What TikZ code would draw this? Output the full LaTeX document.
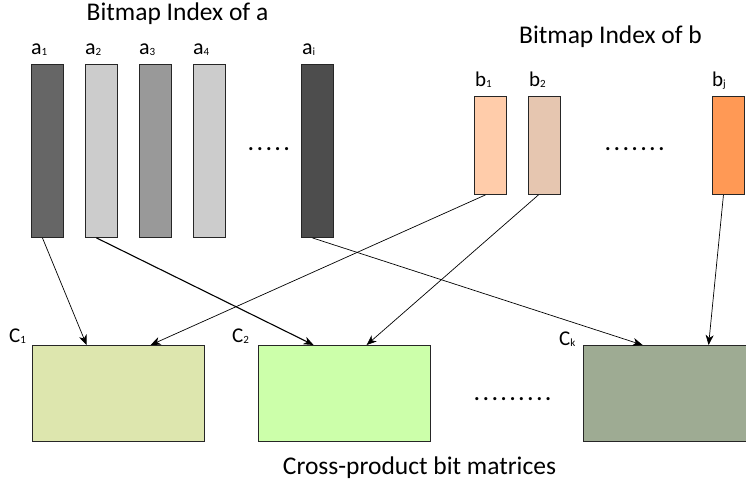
\documentclass[tikz,border=0pt]{standalone}
\usepackage{fontspec}
\setmainfont{Carlito}
\usetikzlibrary{arrows.meta}
\definecolor{ca1}{HTML}{666666}
\definecolor{ca2}{HTML}{CCCCCC}
\definecolor{ca3}{HTML}{999999}
\definecolor{cai}{HTML}{4D4D4D}
\definecolor{cb1}{HTML}{FFCCAA}
\definecolor{cb2}{HTML}{E6C6B0}
\definecolor{cbj}{HTML}{FF9955}
\definecolor{cc1}{HTML}{DDE6AE}
\definecolor{cc2}{HTML}{CCFFAA}
\definecolor{cck}{HTML}{9EAB93}
\newcommand{\lab}[2]{#1{\fontsize{11}{11}\selectfont\raisebox{-1pt}{#2}}}
\newcommand{\dotrow}[1]{\foreach \k in {1,...,#1}{.\ifnum\k<#1\kern3.3pt\fi}}
\tikzset{
  bar/.style={draw=black!85, line width=0.9pt, inner sep=0pt, anchor=north west, minimum width=32pt},
  abar/.style={bar, minimum height=173pt},
  bbar/.style={bar, minimum height=98pt},
  cbox/.style={draw=black!85, line width=1.2pt, inner sep=0pt, anchor=north west, minimum width=172pt, minimum height=96pt},
  lbl/.style={font=\fontsize{22}{22}\selectfont, inner sep=0pt, anchor=base west},
  blbl/.style={lbl, font=\fontsize{21}{21}\selectfont},
  title/.style={font=\fontsize{25.5}{25.5}\selectfont, inner sep=0pt, anchor=base},
  dots/.style={font=\fontsize{21}{21}\selectfont\bfseries, inner sep=0pt, anchor=base west},
  conn/.style={line width=0.7pt, -{Stealth[length=10pt,width=8pt,inset=3pt]}},
}
\begin{document}
\begin{tikzpicture}[x=1pt,y=-1pt]
\useasboundingbox (0,0) rectangle (746,479);
\node[title] (ta) at (177.5,20) {Bitmap Index of a};
\node[title] (tb) at (610.5,43) {Bitmap Index of b};
\node[abar, fill=ca1] (a1) at (31,64) {};
\node[abar, fill=ca2] (a2) at (85,64) {};
\node[abar, fill=ca3] (a3) at (139,64) {};
\node[abar, fill=ca2] (a4) at (193,64) {};
\node[abar, fill=cai] (ai) at (301,64) {};
\node[lbl] (la1) at (31,54) {\lab{a}{1}};
\node[lbl] (la2) at (85,54) {\lab{a}{2}};
\node[lbl] (la3) at (139,54) {\lab{a}{3}};
\node[lbl] (la4) at (193,54) {\lab{a}{4}};
\node[lbl] (lai) at (302,54) {\lab{a}{i}};
\node[dots] (da) at (248,150) {\dotrow{5}};
\node[bbar, fill=cb1] (b1) at (474,96) {};
\node[bbar, fill=cb2] (b2) at (528,96) {};
\node[bbar, fill=cbj] (bj) at (712,96) {};
\node[blbl] (lb1) at (475,86) {\lab{b}{1}};
\node[blbl] (lb2) at (529,86) {\lab{b}{2}};
\node[blbl] (lbj) at (712,86) {\lab{b}{j}};
\node[dots] (db) at (605,150) {\dotrow{7}};
\node[cbox, fill=cc1] (c1) at (32,345) {};
\node[cbox, fill=cc2] (c2) at (258,345) {};
\node[cbox, fill=cck] (ck) at (583,345) {};
\node[blbl] (lc1) at (9,342) {\lab{C}{1}};
\node[blbl] (lc2) at (232,342) {\lab{C}{2}};
\node[blbl] (lck) at (559,345) {\lab{C}{k}};
\node[dots] (dc) at (474,400) {\dotrow{9}};
\node[title] (tc) at (419.5,474) {Cross-product bit matrices};
\draw[conn] ([xshift=-5]a1.south) -- ([xshift=-32]c1.north);
\draw[conn, line width=1.1pt] ([xshift=-5]a2.south) -- ([xshift=-31]c2.north);
\draw[conn] ([xshift=-5]ai.south) -- ([xshift=-27]ck.north);
\draw[conn] ([xshift=-5]b1.south) -- ([xshift=32]c1.north);
\draw[conn] ([xshift=-6]b2.south) -- ([xshift=22]c2.north);
\draw[conn] ([xshift=-5]bj.south) -- ([xshift=39]ck.north);
\end{tikzpicture}
\end{document}
